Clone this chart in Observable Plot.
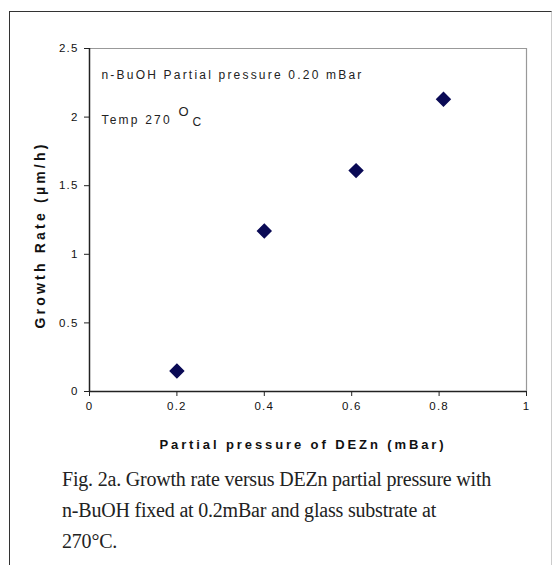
<!DOCTYPE html>
<html>
<head>
<meta charset="utf-8">
<script src="https://cdn.jsdelivr.net/npm/d3@7"></script>
<script src="https://cdn.jsdelivr.net/npm/@observablehq/plot@0.6"></script>
<style>
  html, body { margin: 0; padding: 0; background: #fff; }
  body { width: 553px; height: 565px; position: relative; overflow: hidden; }
  #border { position: absolute; left: 9px; top: 11px; width: 541px; height: 600px;
            border-left: 1.5px solid #333; border-top: 1.5px solid #333; border-right: 1px solid #ccc; }
  #chart { position: absolute; left: 0; top: 0; }
  #caption { position: absolute; left: 62px; top: 464px; width: 485px;
             font-family: "Liberation Serif", "Times New Roman", serif; font-size: 20px;
             line-height: 31px; letter-spacing: -0.2px; color: #222; }
  #caption div { white-space: nowrap; }
</style>
</head>
<body>
<div id="border"></div>
<div id="chart"></div>
<div id="caption"></div>
<script>
// Data
const pressure = [0.2, 0.4, 0.61, 0.81];          // Partial pressure of DEZn (mBar)
const growth   = [0.15, 1.17, 1.61, 2.13];        // Growth rate (µm/h)
const xTicks = [0, 0.2, 0.4, 0.6, 0.8, 1];
const yTicks = [0, 0.5, 1, 1.5, 2, 2.5];
const xLabel = "Partial pressure of DEZn (mBar)";
const yLabel = "Growth Rate (µm/h)";
const note1 = ["n-BuOH Partial pressure 0.20 mBar"];
const note2 = ["Temp 270"];
const noteDeg = ["O"];
const noteC = ["C"];
const captionLines = [
  "Fig. 2a. Growth rate versus DEZn partial pressure with",
  "n-BuOH fixed at 0.2mBar and glass substrate at",
  "270°C."
];

const points = pressure.map((p, i) => ({p, g: growth[i]}));

const plot = Plot.plot({
  width: 553,
  height: 460,
  marginLeft: 89,
  marginRight: 27,
  marginTop: 48,
  marginBottom: 69,
  style: {fontFamily: "'Liberation Sans', Arial, sans-serif", fontSize: "11.5px", color: "#111", background: "transparent"},
  x: {domain: [0, 1]},
  y: {domain: [0, 2.5]},
  marks: [
    Plot.ruleY([2.5], {stroke: "#999", strokeWidth: 1.2}),
    Plot.ruleX([1], {stroke: "#999", strokeWidth: 1.2}),
    Plot.ruleX([0], {stroke: "#222", strokeWidth: 1.5}),
    Plot.ruleY([0], {stroke: "#222", strokeWidth: 1.5}),
    Plot.axisX({ticks: xTicks, tickSize: 5, tickPadding: 5, label: null, tickFormat: d => String(d), stroke: "#222"}),
    Plot.axisY({ticks: yTicks, tickSize: 5, tickPadding: 6, label: null, tickFormat: d => String(d), stroke: "#222"}),
    Plot.dot(points, {x: "p", y: "g", symbol: "diamond2", r: 6, fill: "#0a0a55", stroke: "#0a0a55"}),
    Plot.text(note1, {frameAnchor: "top-left", dx: 12, dy: 27, textAnchor: "start", lineAnchor: "middle", fontSize: 12, fill: "#222"}),
    Plot.text(note2, {frameAnchor: "top-left", dx: 12, dy: 72, textAnchor: "start", lineAnchor: "middle", fontSize: 12, fill: "#222"}),
    Plot.text(noteDeg, {frameAnchor: "top-left", dx: 89, dy: 63, textAnchor: "start", lineAnchor: "middle", fontSize: 13, fill: "#222"}),
    Plot.text(noteC, {frameAnchor: "top-left", dx: 103, dy: 74, textAnchor: "start", lineAnchor: "middle", fontSize: 12, fill: "#222"}),
    Plot.text([yLabel], {frameAnchor: "left", rotate: -90, dx: -49, dy: 15, textAnchor: "middle", lineAnchor: "middle", fontWeight: "bold", fontSize: 14, fill: "#111"}),
    Plot.text([xLabel], {frameAnchor: "bottom", dx: -5, dy: 53, textAnchor: "middle", lineAnchor: "middle", fontWeight: "bold", fontSize: 13, fill: "#111"})
  ]
});
document.getElementById("chart").appendChild(plot);

// letter spacing to mimic the spaced-out Excel rendering
const spacing = new Map([
  [note1[0], "2.2px"], [note2[0], "2.2px"], [yLabel, "3.2px"], [xLabel, "2.9px"],
  [noteDeg[0], "0px"], [noteC[0], "0px"]
]);
d3.select(plot).selectAll("text").each(function() {
  const t = this.textContent;
  this.style.letterSpacing = spacing.has(t) ? spacing.get(t) : "1.2px";
});

const cap = d3.select("#caption");
captionLines.forEach(l => cap.append("div").text(l));
</script>
</body>
</html>
